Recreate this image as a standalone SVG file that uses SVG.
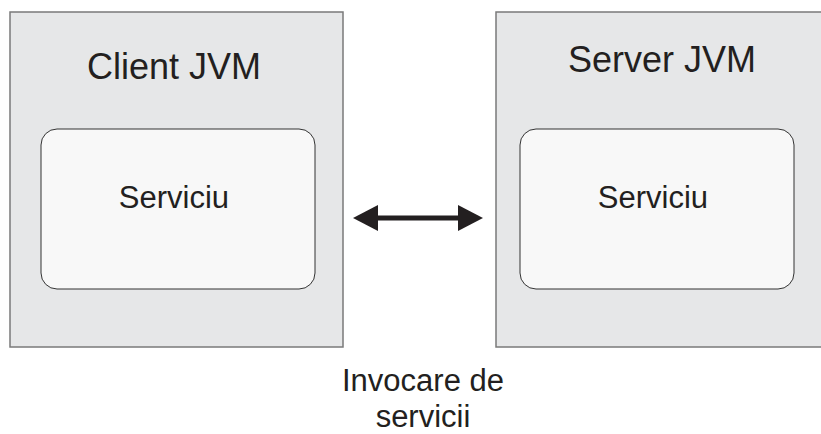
<svg xmlns="http://www.w3.org/2000/svg" width="821" height="434" viewBox="0 0 821 434">
<style>
.jvm{fill:#e6e7e8;stroke:#7a7a7a;stroke-width:1.5}
.svc{fill:#f8f8f8;stroke:#333;stroke-width:1}
text{font-family:"Liberation Sans",Arial,sans-serif;fill:#231f20;text-anchor:middle}
.t{font-size:36px}
.s{font-size:31px}
</style>
<defs>
<marker id="ah" viewBox="0 0 25 26" refX="0" refY="13" markerWidth="25" markerHeight="26" markerUnits="userSpaceOnUse" orient="auto-start-reverse">
<path d="M0,0 L25,13 L0,26 Z" fill="#231f20"/>
</marker>
</defs>
<rect width="821" height="434" fill="#fff"/>
<g id="client">
<rect class="jvm" x="10" y="12" width="333" height="335"/>
<text class="t" x="174" y="79">Client JVM</text>
<g id="client-svc">
<rect class="svc" x="41" y="129" width="274" height="160" rx="16"/>
<text class="s" x="174" y="208">Serviciu</text>
</g>
</g>
<g id="server">
<rect class="jvm" x="496" y="12" width="330" height="335"/>
<text class="t" x="662" y="72">Server JVM</text>
<g id="server-svc">
<rect class="svc" x="520" y="129" width="274" height="160" rx="16"/>
<text class="s" x="653" y="208">Serviciu</text>
</g>
</g>
<g id="connectors">
<line x1="378" y1="218" x2="458" y2="218" stroke="#231f20" stroke-width="5" marker-start="url(#ah)" marker-end="url(#ah)"/>
</g>
<g id="label">
<text class="s" x="423" y="391">Invocare de</text>
<text class="s" x="423" y="427">servicii</text>
</g>
</svg>
